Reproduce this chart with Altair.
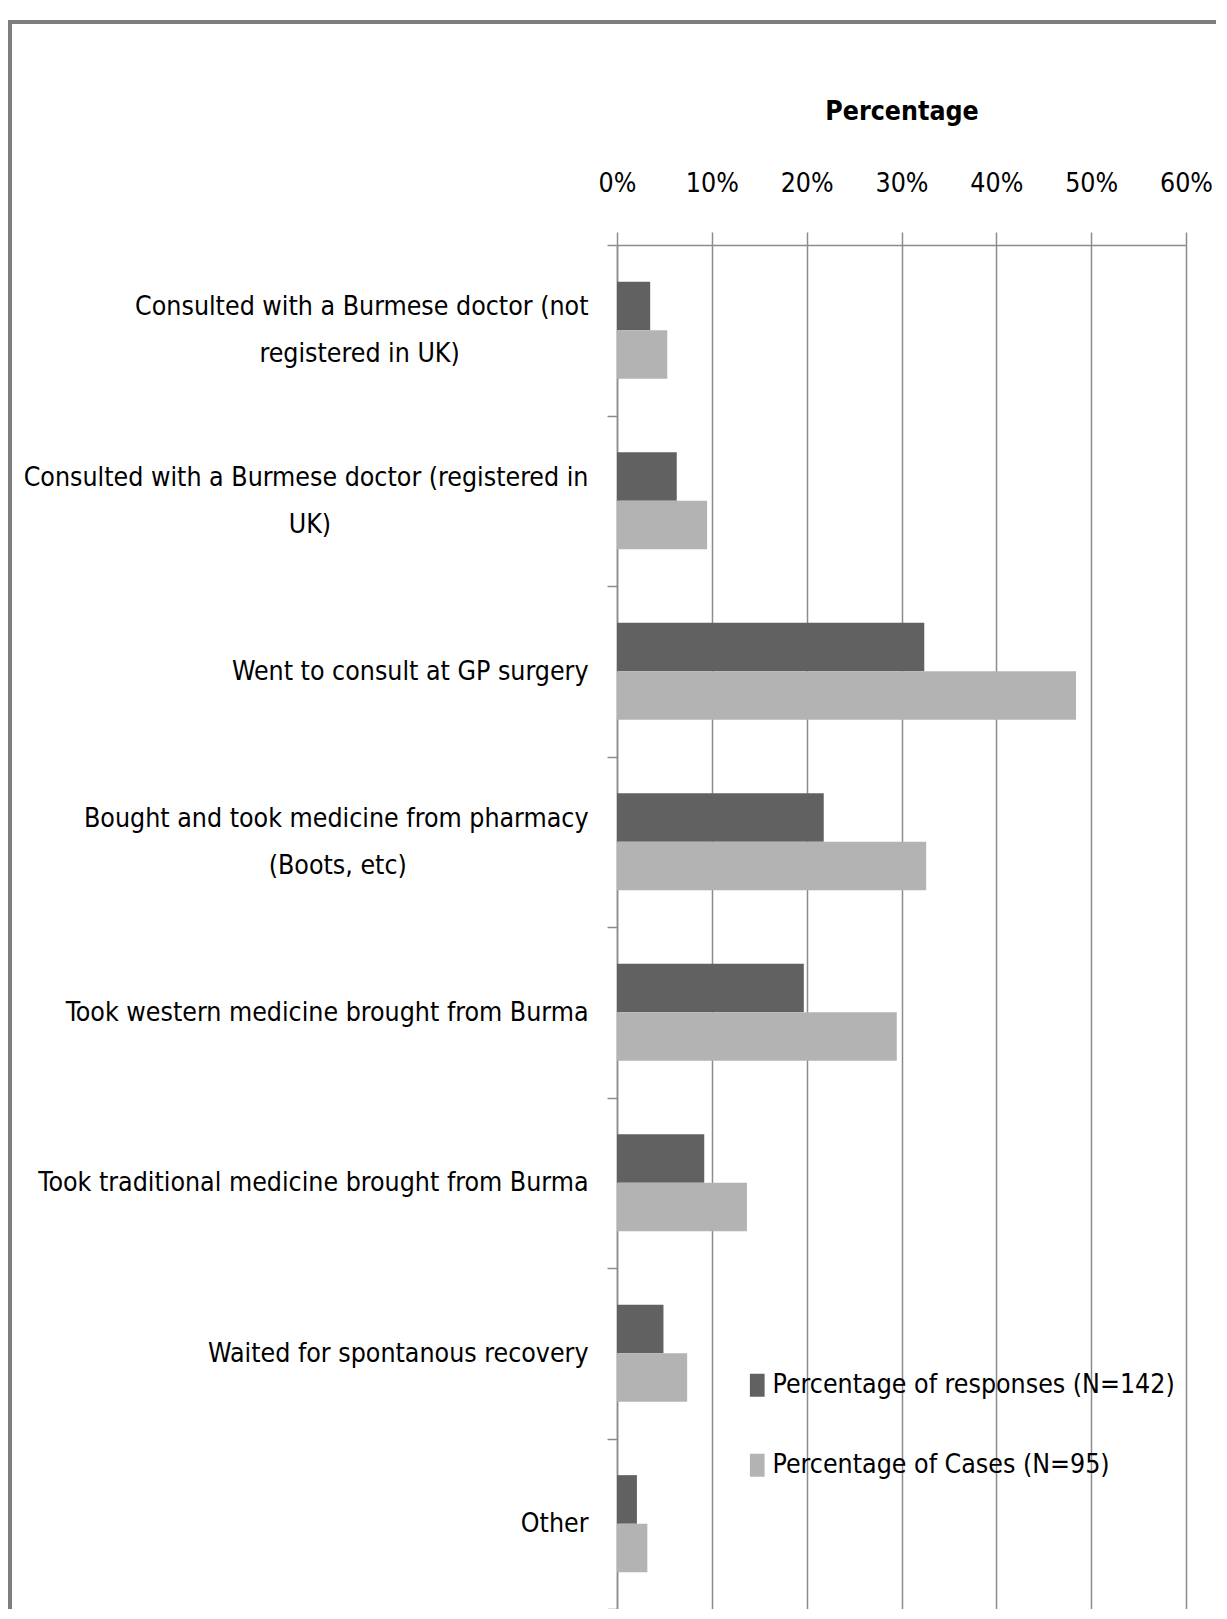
import json
import altair as alt
import pandas as pd

# ---------------- data ----------------
categories = [
    "Consulted with a Burmese doctor (not registered in UK)",
    "Consulted with a Burmese doctor (registered in UK)",
    "Went to consult at GP surgery",
    "Bought and took medicine from pharmacy (Boots, etc)",
    "Took western medicine brought from Burma",
    "Took traditional medicine brought from Burma",
    "Waited for spontanous recovery",
    "Other",
]
label_lines = [
    ["Consulted with a Burmese doctor (not", "registered in UK)"],
    ["Consulted with a Burmese doctor (registered  in", "UK)"],
    ["Went to consult at GP surgery"],
    ["Bought and took medicine from pharmacy", "(Boots, etc)"],
    ["Took western  medicine brought from Burma"],
    ["Took traditional medicine brought from Burma"],
    ["Waited for spontanous recovery"],
    ["Other"],
]
series_names = ["Percentage of responses (N=142)", "Percentage of Cases (N=95)"]
responses = [3.5, 6.3, 32.4, 21.8, 19.7, 9.2, 4.9, 2.1]
cases = [5.3, 9.5, 48.4, 32.6, 29.5, 13.7, 7.4, 3.2]
x_ticks = [0, 10, 20, 30, 40, 50, 60]

# ---------------- style ----------------
FONT = "DejaVu Sans Condensed, DejaVu Sans, sans-serif"
FS = 26.5
LINE_H = 47
GRID = "#8c8c8c"
# trailing no-break spaces (anchored by a zero-width space) centre the 2nd line
second_line_pad = [17, 34, 0, 24, 0, 0, 0, 0]

rows = []
for i, c in enumerate(categories):
    rows.append({"category": c, "series": series_names[0], "value": responses[i]})
    rows.append({"category": c, "series": series_names[1], "value": cases[i]})
df = pd.DataFrame(rows)

parts = []
two_line = []
for c, lines, pad in zip(categories, label_lines, second_line_pad):
    ls = list(lines)
    if len(ls) > 1:
        ls[1] = ls[1] + "\u00a0" * pad + "\u200b"
        two_line.append(c)
    parts.append(f"datum.value == {json.dumps(c)} ? {json.dumps(ls, ensure_ascii=False)}")
label_expr = " : ".join(parts) + " : datum.value"
two_line_test = f"indexof({json.dumps(two_line)}, datum.value) >= 0"

bars = alt.Chart(df).mark_bar().encode(
    y=alt.Y(
        "category:N",
        sort=categories,
        scale=alt.Scale(paddingInner=0, paddingOuter=0),
        axis=alt.Axis(
            title=None,
            labelExpr=label_expr,
            labelOffset={"condition": {"test": two_line_test, "value": -LINE_H / 2}, "value": 0},
            tickBand="extent",
            tickSize=10,
            labelPadding=19,
            labelFont=FONT,
            labelFontSize=FS,
            labelLineHeight=LINE_H,
            labelColor="#000000",
            labelLimit=800,
            domainColor=GRID,
            domainWidth=1.5,
            tickColor=GRID,
            tickWidth=1.5,
            grid=False,
        ),
    ),
    yOffset=alt.YOffset(
        "series:N", sort=series_names,
        scale=alt.Scale(paddingInner=0, paddingOuter=0.754),
    ),
    x=alt.X(
        "value:Q",
        scale=alt.Scale(domain=[0, 60]),
        axis=alt.Axis(
            orient="top",
            values=x_ticks,
            labelExpr="datum.value + '%'",
            labelFlush=False,
            title="Percentage",
            titleFont=FONT,
            titleFontSize=FS,
            titleFontWeight="bold",
            titleColor="#000000",
            titlePadding=45,
            labelFont=FONT,
            labelFontSize=FS,
            labelColor="#000000",
            labelPadding=35,
            tickSize=13,
            tickColor=GRID,
            tickWidth=1.5,
            domainColor=GRID,
            domainWidth=1.5,
            grid=True,
            gridColor=GRID,
            gridWidth=1.5,
        ),
    ),
    color=alt.Color(
        "series:N",
        scale=alt.Scale(domain=series_names, range=["#616161", "#b3b3b3"]),
        legend=alt.Legend(
            title=None,
            orient="none",
            legendX=127,
            legendY=1127,
            padding=0,
            symbolType="M-0.64,-1H0.64V1H-0.64Z",
            symbolSize=529,
            symbolStrokeWidth=0,
            symbolOpacity=1,
            labelFont=FONT,
            labelFontSize=FS,
            labelColor="#000000",
            labelOffset=2,
            labelLimit=600,
            rowPadding=53,
        ),
    ),
)

frame_top = alt.Chart(df).mark_rule(color="#7f7f7f", strokeWidth=3).encode(
    x=alt.value(-609), x2=alt.value(620), y=alt.value(-223)
)
frame_left = alt.Chart(df).mark_rule(color="#7f7f7f", strokeWidth=3).encode(
    x=alt.value(-607), y=alt.value(-223), y2=alt.value(1400)
)

chart = (
    alt.layer(frame_top, frame_left, bars)
    .properties(
        width=569,
        height=1364,
        autosize=alt.AutoSizeParams(type="none"),
        padding={"left": 609, "top": 237, "right": 30, "bottom": 0},
        background="#ffffff",
    )
    .configure_view(stroke=None)
)

chart.save("out.html", embed_options={"renderer": "svg", "actions": False})
